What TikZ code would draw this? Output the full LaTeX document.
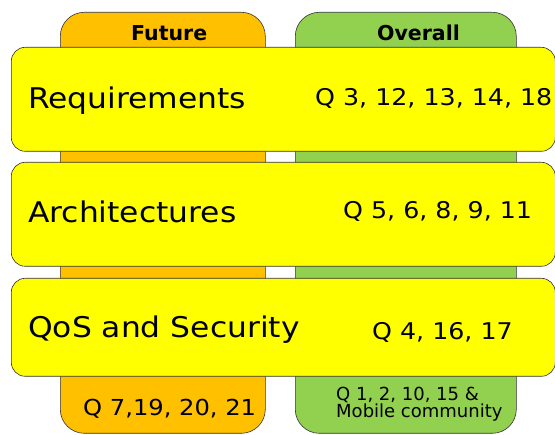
\documentclass[tikz,border=0pt]{standalone}
\usepackage{fontspec}
\setmainfont{DejaVu Sans}
\newfontfamily\widesans[FakeStretch=1.1]{DejaVu Sans}
\begin{document}
\begin{tikzpicture}[x=1pt,y=-1pt,
  column/.style={draw=black!80, line width=0.6pt, rounded corners=24pt, anchor=north west, inner sep=0pt},
  band/.style={draw=black!80, line width=0.6pt, fill=bandyellow, rounded corners=14pt, anchor=north west,
    minimum width=544pt, inner sep=0pt},
  txt/.style={anchor=base west, inner sep=0pt},
  topic/.style={txt, font=\widesans\fontsize{28.5}{34}\selectfont},
  qlist/.style={txt, font=\widesans\fontsize{23}{28}\selectfont},
  head/.style={txt, font=\bfseries\fontsize{20.5}{24}\selectfont}]
\useasboundingbox (0,0) rectangle (555,435);
\definecolor{colfuture}{HTML}{FFC000}
\definecolor{coloverall}{HTML}{92D050}
\definecolor{bandyellow}{HTML}{FFFF00}
% the two columns behind the bands
\node[column, fill=colfuture, minimum width=205pt, minimum height=421pt] (fut) at (60,12) {};
\node[column, fill=coloverall, minimum width=221pt, minimum height=421pt] (ovr) at (295,12) {};
\node[head] (futhead) at (131,41) {Future};
\node[head] (ovrhead) at (377,41) {Overall};
% three topic bands
\node[band, minimum height=104pt] (req) at (11,47) {};
\node[band, minimum height=104pt] (arch) at (11,162) {};
\node[band, minimum height=98pt] (qos) at (11,278) {};
\node[topic] (reqt) at (28,109) {Requirements};
\node[topic] (archt) at (28,223) {Architectures};
\node[topic] (qost) at (28,338) {QoS and Security};
\node[qlist] (reqq) at (315,106) {Q 3, 12, 13, 14, 18};
\node[qlist] (archq) at (343,219) {Q 5, 6, 8, 9, 11};
\node[qlist] (qosq) at (372,340) {Q 4, 16, 17};
% question numbers at the foot of each column
\node[qlist, font=\widesans\fontsize{22}{26}\selectfont] (futq) at (83,416) {Q 7,19, 20, 21};
\node[txt, align=left, font=\fontsize{18}{17}\selectfont] (ovrq) at (336,418) {Q 1, 2, 10, 15 \&\\Mobile community};
\end{tikzpicture}
\end{document}
